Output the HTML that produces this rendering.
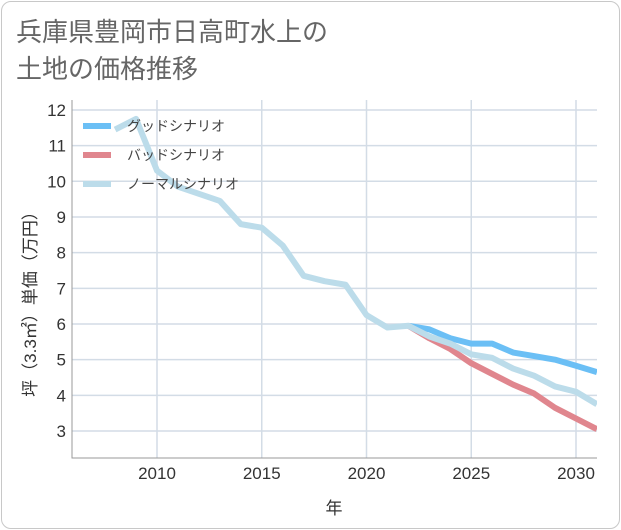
<!DOCTYPE html>
<html><head><meta charset="utf-8">
<style>
body{margin:0;background:#fff;font-family:"Liberation Sans","Noto Sans CJK JP",sans-serif;}
#card{position:absolute;left:1px;top:1px;width:617px;height:526px;border:1px solid #c8c8c8;border-radius:10px;background:#fff;}
#title{position:absolute;left:16px;top:14px;font-size:26px;line-height:37px;color:#666;}
svg{position:absolute;left:0;top:0;}
</style></head>
<body>
<div id="card"></div>
<div id="title">兵庫県豊岡市日高町水上の<br>土地の価格推移</div>
<svg id="chart" width="621" height="530"></svg>
<script>
const years=[2008,2009,2010,2011,2012,2013,2014,2015,2016,2017,2018,2019,2020,2021,2022,2023,2024,2025,2026,2027,2028,2029,2030,2031];
const normal=[11.45,11.75,10.3,9.85,9.65,9.45,8.8,8.7,8.2,7.35,7.2,7.1,6.25,5.9,5.95,5.65,5.45,5.15,5.05,4.75,4.55,4.25,4.1,3.75];
const goodYears=[2022,2023,2024,2025,2026,2027,2028,2029,2030,2031];
const good=[5.95,5.85,5.6,5.45,5.45,5.2,5.1,5.0,4.83,4.65];
const bad=[5.95,5.6,5.3,4.9,4.6,4.3,4.05,3.65,3.35,3.05];
const yTicks=[3,4,5,6,7,8,9,10,11,12];
const xTicks=[2010,2015,2020,2025,2030];
const X0=72,X1=597,Y0=100,Y1=458;
const xs=v=>157+(v-2010)*20.95;
const ys=v=>431-(v-3)*35.67;
const svg=document.getElementById('chart');
const NS='http://www.w3.org/2000/svg';
function mk(t,a){const e=document.createElementNS(NS,t);for(const k in a)e.setAttribute(k,a[k]);svg.appendChild(e);return e;}
const clip=mk('clipPath',{id:'c'});const cr=document.createElementNS(NS,'rect');
cr.setAttribute('x',X0);cr.setAttribute('y',Y0);cr.setAttribute('width',X1-X0);cr.setAttribute('height',Y1-Y0);clip.appendChild(cr);
yTicks.forEach(t=>{
 const l=mk('line',{x1:X0,x2:X1,y1:ys(t),y2:ys(t),stroke:'#d3dce6','stroke-width':1.5});
 
 const tx=mk('text',{x:66,y:ys(t)+6,'text-anchor':'end','font-size':17,fill:'#333'});tx.textContent=t;
 
});
xTicks.forEach(t=>{
 const l=mk('line',{x1:xs(t),x2:xs(t),y1:Y0,y2:Y1,stroke:'#d3dce6','stroke-width':1.5});
 
 const tx=mk('text',{x:xs(t),y:479,'text-anchor':'middle','font-size':17,fill:'#333'});tx.textContent=t;
 
});
const ax=mk('path',{d:`M${X0} ${Y0}V${Y1}H${X1}`,fill:'none',stroke:'#999','stroke-width':1});

function line(xv,yv,col,name){
 const p=mk('polyline',{points:xv.map((x,i)=>xs(x)+','+ys(yv[i])).join(' '),fill:'none',stroke:col,'stroke-width':6,'stroke-linejoin':'round','clip-path':'url(#c)'});
 
}
line(goodYears,good,'#6bbff5','good-scenario-line');
line(goodYears,bad,'#e0868e','bad-scenario-line');
line(years,normal,'#bcdcea','normal-scenario-line');
const leg=[['グッドシナリオ','#6bbff5',126],['バッドシナリオ','#e0868e',155],['ノーマルシナリオ','#bcdcea',184]];
leg.forEach(([n,c,y])=>{
 const l=mk('line',{x1:83,x2:111,y1:y,y2:y,stroke:c,'stroke-width':6});
 
 const t=mk('text',{x:127,y:y+5,'font-size':14,fill:'#444'});t.textContent=n;
 
});
const xt=mk('text',{x:334,y:514,'text-anchor':'middle','font-size':17,fill:'#333'});xt.textContent='年';

const yt=mk('text',{x:0,y:0,'text-anchor':'middle','font-size':17,fill:'#333',transform:'translate(36,300) rotate(-90)'});yt.textContent='坪（3.3㎡）単価（万円）';

</script>
</body></html>
